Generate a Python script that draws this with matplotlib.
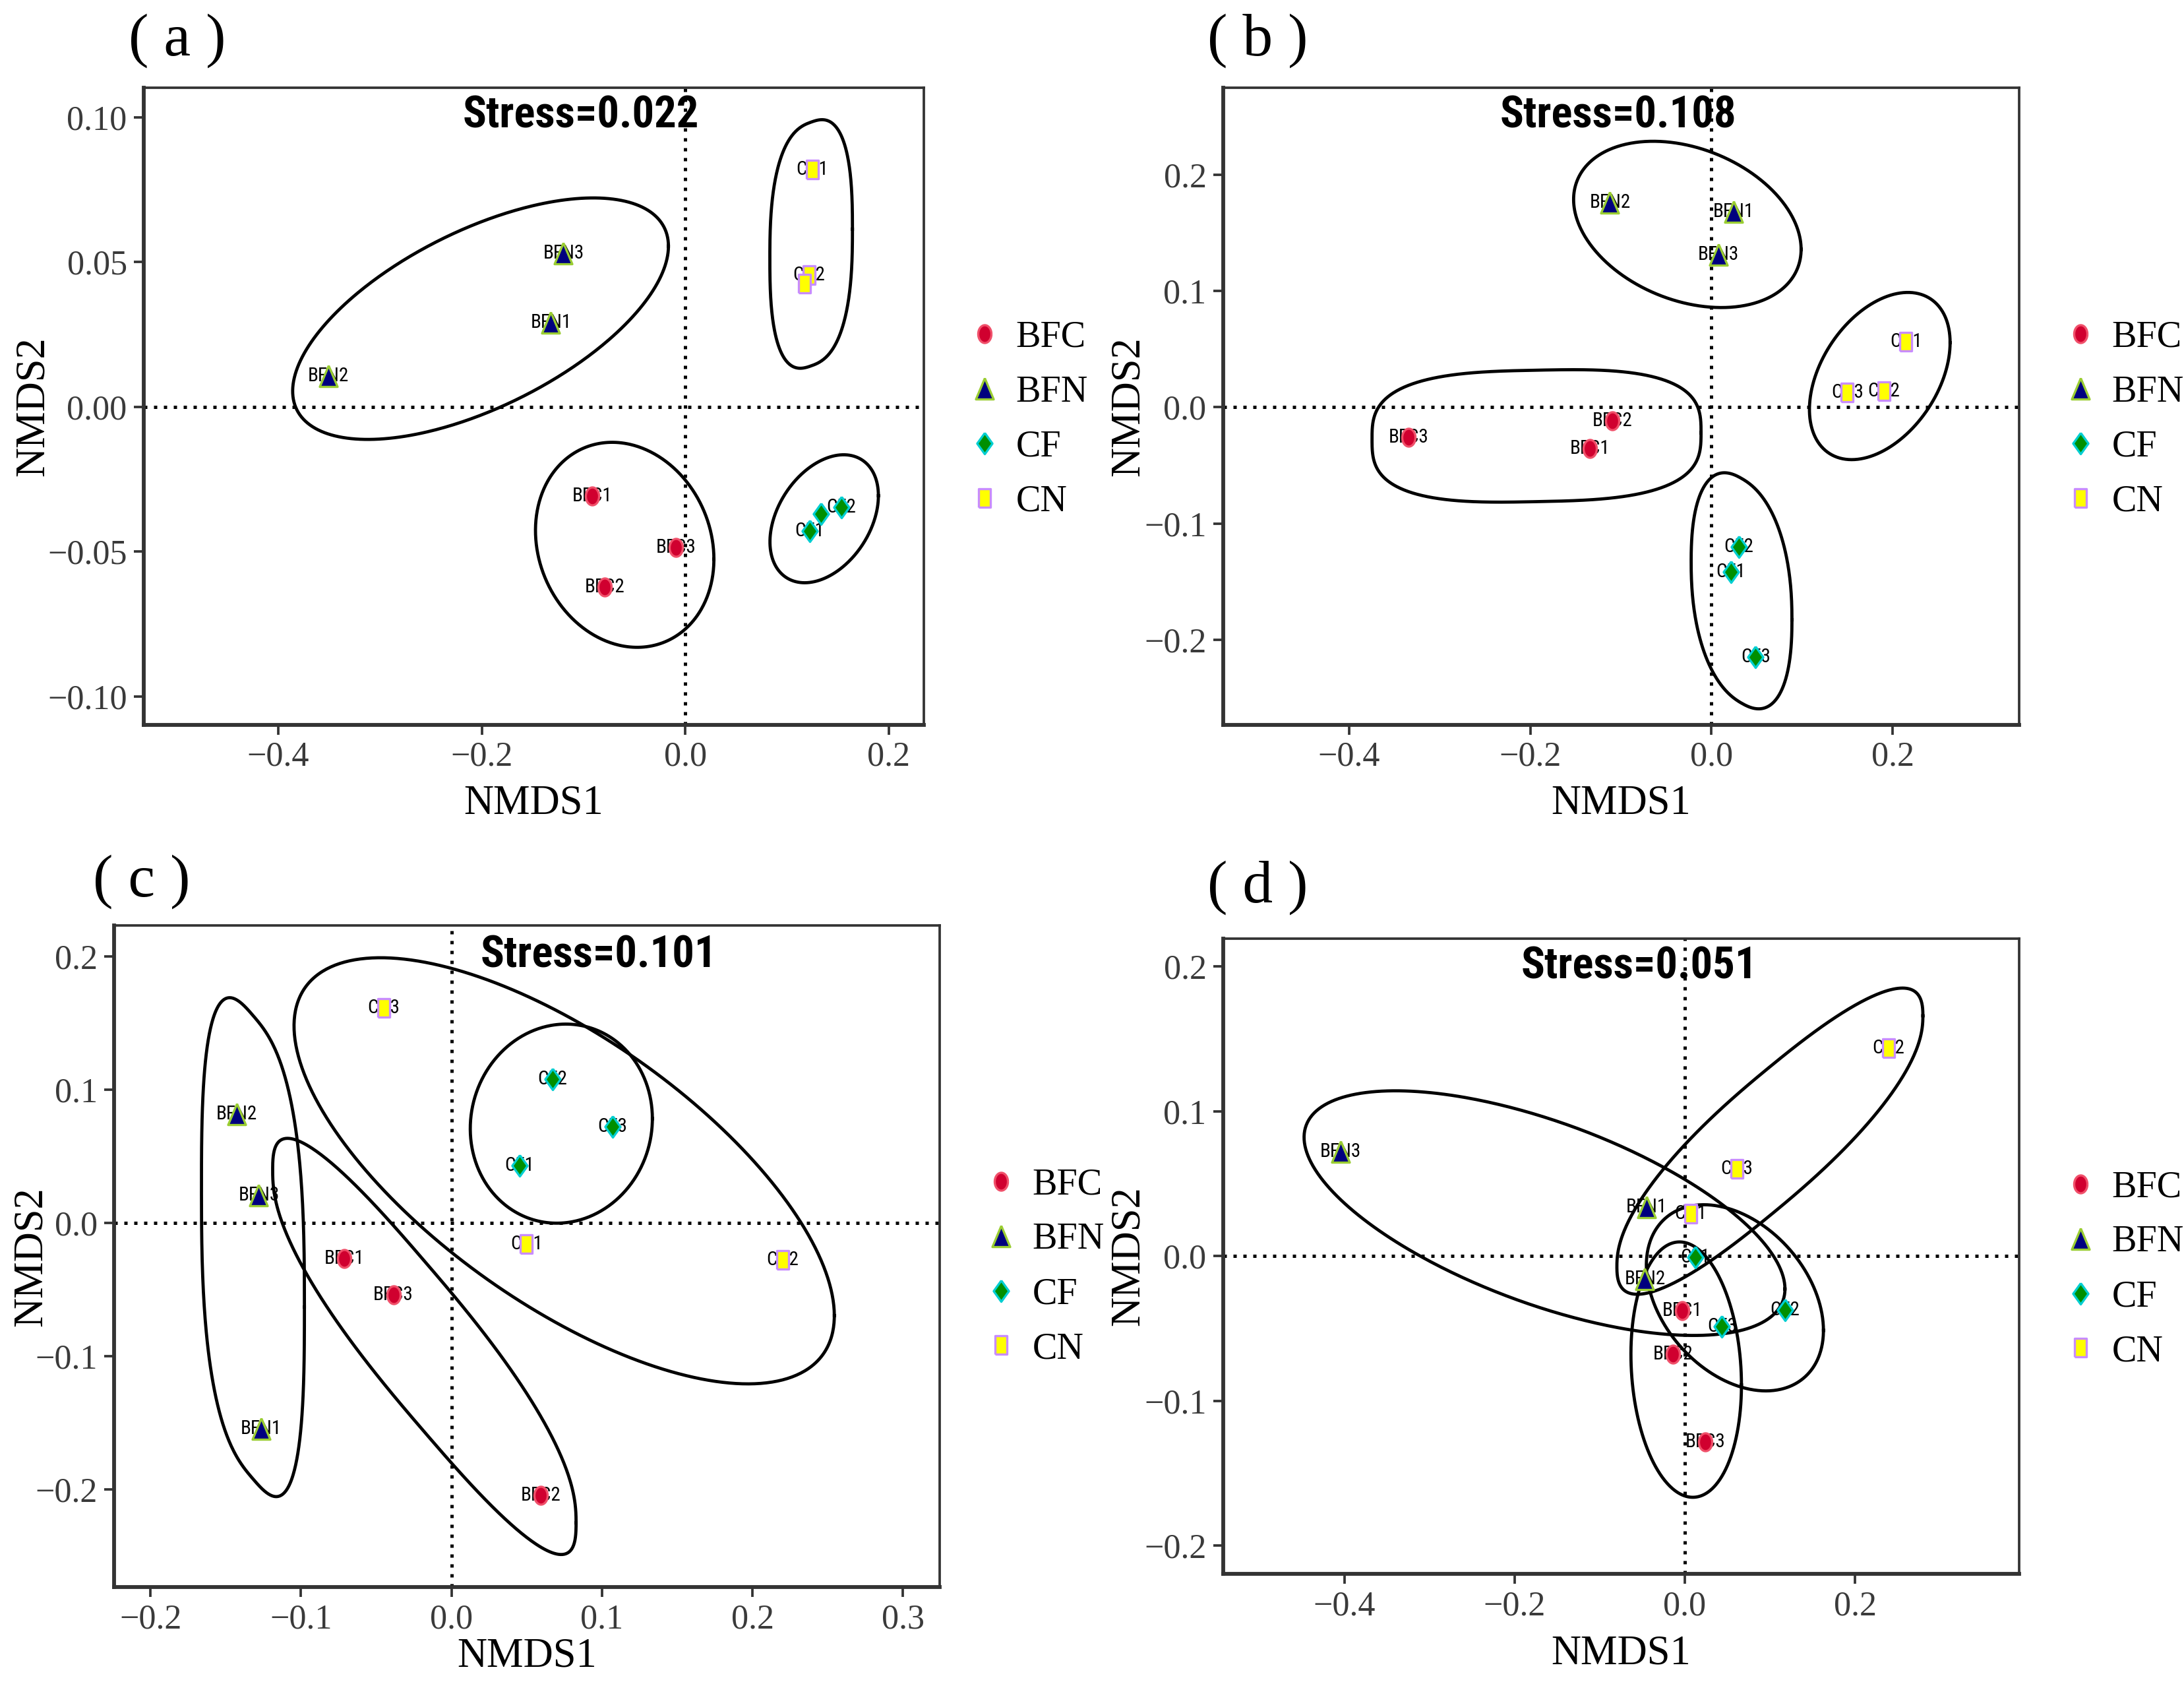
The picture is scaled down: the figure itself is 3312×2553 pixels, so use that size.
import numpy as np
import matplotlib
matplotlib.use('Agg')
import matplotlib.pyplot as plt
from matplotlib import font_manager
from matplotlib.lines import Line2D
from matplotlib.ticker import FixedLocator, FuncFormatter

plt.rcParams['font.family'] = ['Liberation Serif', 'DejaVu Serif']

GROUPS = ['BFC', 'BFN', 'CF', 'CN']

# ---- panel (a) ----
a_x = [-0.0915, -0.079, -0.0089, -0.132, -0.351, -0.1197,
       0.1225, 0.1534, 0.1335, 0.125, 0.1215, 0.1175]
a_y = [-0.0309, -0.0622, -0.0486, 0.0291, 0.0106, 0.0529,
       -0.043, -0.0347, -0.0369, 0.0819, 0.0455, 0.0425]
a_grp = ['BFC'] * 3 + ['BFN'] * 3 + ['CF'] * 3 + ['CN'] * 3
a_lab = ['BFC1', 'BFC2', 'BFC3', 'BFN1', 'BFN2', 'BFN3',
         'CF1', 'CF2', '', 'CN1', 'CN2', '']
a_stress = 'Stress=0.022'
a_xticks = [-0.4, -0.2, 0.0, 0.2]
a_yticks = [-0.10, -0.05, 0.00, 0.05, 0.10]
# group outlines (BFC, BFN, CF, CN): centre, half extents, tilt, squareness
a_ell_cx = [-0.0595, -0.2012, 0.1366, 0.1238]
a_ell_cy = [-0.0477, 0.0304, -0.0387, 0.0562]
a_ell_hx = [0.0877, 0.1847, 0.0533, 0.0406]
a_ell_hy = [0.0354, 0.0417, 0.0221, 0.0424]
a_ell_r = [-0.14, 0.6, 0.36, 0.12]
a_ell_n = [2.0, 2.0, 2.0, 2.6]

# ---- panel (b) ----
b_x = [-0.1344, -0.1096, -0.3344, 0.0247, -0.112, 0.0077,
       0.0216, 0.0301, 0.0486, 0.2147, 0.190, 0.1498]
b_y = [-0.0357, -0.0116, -0.026, 0.1684, 0.1763, 0.1313,
       -0.1415, -0.1197, -0.2148, 0.0566, 0.0139, 0.0125]
b_grp = a_grp
b_lab = ['BFC1', 'BFC2', 'BFC3', 'BFN1', 'BFN2', 'BFN3',
         'CF1', 'CF2', 'CF3', 'CN1', 'CN2', 'CN3']
b_stress = 'Stress=0.108'
b_xticks = [-0.4, -0.2, 0.0, 0.2]
b_yticks = [-0.2, -0.1, 0.0, 0.1, 0.2]
b_ell_cx = [-0.193, -0.0266, 0.0332, 0.1857]
b_ell_cy = [-0.0246, 0.1573, -0.1578, 0.0269]
b_ell_hx = [0.1815, 0.1255, 0.0556, 0.0776]
b_ell_hy = [0.0566, 0.0715, 0.0998, 0.0719]
b_ell_r = [0.05, -0.3, -0.25, 0.4]
b_ell_n = [3.0, 2.0, 2.3, 2.0]

# ---- panel (c) ----
c_x = [-0.0712, 0.0595, -0.0386, -0.1265, -0.1428, -0.128,
       0.0451, 0.067, 0.107, 0.0498, 0.22, -0.0451]
c_y = [-0.0271, -0.2049, -0.0543, -0.1547, 0.0814, 0.0206,
       0.0429, 0.1077, 0.0721, -0.0162, -0.0279, 0.1611]
c_grp = a_grp
c_lab = b_lab
c_stress = 'Stress=0.101'
c_xticks = [-0.2, -0.1, 0.0, 0.1, 0.2, 0.3]
c_yticks = [-0.2, -0.1, 0.0, 0.1, 0.2]
c_ell_cx = [-0.018, -0.1319, 0.073, 0.0749]
c_ell_cy = [-0.0929, -0.0184, 0.0743, 0.0389]
c_ell_hx = [0.1008, 0.0342, 0.0605, 0.1795]
c_ell_hy = [0.1471, 0.1796, 0.0747, 0.1599]
c_ell_r = [-0.9, -0.25, 0.05, -0.68]
c_ell_n = [2.6, 2.8, 2.0, 2.0]

# ---- panel (d) ----
d_x = [-0.0033, -0.014, 0.0238, -0.0452, -0.0469, -0.4044,
       0.0123, 0.1175, 0.0436, 0.0066, 0.2392, 0.0608]
d_y = [-0.038, -0.0679, -0.1286, 0.0336, -0.0157, 0.072,
       -0.0007, -0.0373, -0.0485, 0.0291, 0.1435, 0.060]
d_grp = a_grp
d_lab = b_lab
d_stress = 'Stress=0.051'
d_xticks = [-0.4, -0.2, 0.0, 0.2]
d_yticks = [-0.2, -0.1, 0.0, 0.1, 0.2]
d_ell_cx = [0.0016, -0.1648, 0.0588, 0.0999]
d_ell_cy = [-0.0785, 0.0296, -0.0289, 0.0793]
d_ell_hx = [0.0649, 0.2824, 0.104, 0.1797]
d_ell_hy = [0.0882, 0.0845, 0.0643, 0.1007]
d_ell_r = [-0.12, -0.62, -0.35, 0.86]
d_ell_n = [2.0, 2.0, 2.0, 2.4]

# ---- styling ----
def _narrow(verts, k):
    return [(vx * k, vy) for vx, vy in verts]

_t = np.linspace(0, 2 * np.pi, 40)
MARKERS = {
    'BFC': _narrow(list(zip(0.5 * np.cos(_t), 0.5 * np.sin(_t))), 0.74),
    'BFN': _narrow([(0, 0.5), (-0.5, -0.5), (0.5, -0.5), (0, 0.5)], 0.84),
    'CF': _narrow([(0, 0.5), (-0.5, 0), (0, -0.5), (0.5, 0), (0, 0.5)], 0.72),
    'CN': _narrow([(-0.5, -0.5), (0.5, -0.5), (0.5, 0.5), (-0.5, 0.5), (-0.5, -0.5)], 0.63),
}
SIZES = {'BFC': 6.5, 'BFN': 7.7, 'CF': 7.7, 'CN': 6.5}
FACE = {'BFC': '#D0002F', 'BFN': '#00007F', 'CF': '#008F00', 'CN': '#FFFF00'}
EDGE = {'BFC': '#F0506A', 'BFN': '#9ACD32', 'CF': '#00CED1', 'CN': '#C88CFF'}

# the reference uses a narrow sans (Arial Narrow-like); take one if installed
_names = {f.name for f in font_manager.fontManager.ttflist}
_narrow_fam = next((n for n in ['Liberation Sans Narrow', 'Roboto Condensed',
                                'Noto Sans Condensed', 'Open Sans Condensed',
                                'DejaVu Sans Condensed', 'Arial Narrow']
                    if n in _names), None)
if _narrow_fam:
    SANS_N = [_narrow_fam, 'Liberation Sans']
    STRESS_SIZE, LABEL_SIZE = 16, 7
else:
    SANS_N = ['Liberation Sans', 'DejaVu Sans']
    STRESS_SIZE, LABEL_SIZE = 14.5, 6


def fmt_tick(v, pos, nd):
    return f'{v:.{nd}f}'.replace('-', '\u2212')


def outline(cx, cy, hx, hy, r, n, num=400):
    t = np.linspace(0, 2 * np.pi, num)
    c = np.sign(np.cos(t)) * np.abs(np.cos(t)) ** (2.0 / n)
    s = np.sign(np.sin(t)) * np.abs(np.sin(t)) ** (2.0 / n)
    return cx + hx * c, cy + hy * (r * c + np.sqrt(1 - r * r) * s)


def draw_panel(ax, xs, ys, grp, lab, ell, stress, xlim, ylim, xticks, yticks,
               ynd, stress_pos, xlab_y, ylab_x, leg_anchor):
    ax.set_xlim(*xlim)
    ax.set_ylim(*ylim)
    ax.axhline(0, color='black', lw=1.2, ls=(0, (1, 2)), zorder=1)
    ax.axvline(0, color='black', lw=1.2, ls=(0, (1, 2)), zorder=1)

    for i, g in enumerate(GROUPS):
        ex, ey = outline(ell[0][i], ell[1][i], ell[2][i], ell[3][i], ell[4][i], ell[5][i])
        ax.plot(ex, ey, color='black', lw=1.15, zorder=2)

    for x, y, g, l in zip(xs, ys, grp, lab):
        if l:
            ax.text(x, y, l, fontsize=LABEL_SIZE, family=SANS_N,
                    ha='center', va='center', zorder=3)
        ax.plot([x], [y], ls='none', marker=MARKERS[g], ms=SIZES[g],
                mfc=FACE[g], mec=EDGE[g], mew=0.8, zorder=4)

    ax.text(stress_pos[0], stress_pos[1], stress, transform=ax.transAxes,
            fontsize=STRESS_SIZE, family=SANS_N, fontweight='bold',
            ha='center', va='center', zorder=5)

    ax.xaxis.set_major_locator(FixedLocator(xticks))
    ax.yaxis.set_major_locator(FixedLocator(yticks))
    ax.xaxis.set_major_formatter(FuncFormatter(lambda v, p: fmt_tick(v, p, 1)))
    ax.yaxis.set_major_formatter(FuncFormatter(lambda v, p: fmt_tick(v, p, ynd)))
    ax.tick_params(direction='out', length=3.5, width=0.9, color='#333333',
                   labelsize=12.5, labelcolor='#3A3A3A', pad=2.5)
    for side in ('left', 'bottom'):
        ax.spines[side].set_linewidth(1.4)
        ax.spines[side].set_color('#333333')
    for side in ('top', 'right'):
        ax.spines[side].set_linewidth(0.9)
        ax.spines[side].set_color('#333333')

    ax.set_xlabel('NMDS1', fontsize=15)
    ax.set_ylabel('NMDS2', fontsize=15)
    ax.xaxis.set_label_coords(0.5, xlab_y)
    ax.xaxis.label.set_va('center')
    ax.yaxis.set_label_coords(ylab_x, 0.5)
    ax.yaxis.label.set_va('center')

    handles = [Line2D([], [], ls='none', marker=MARKERS[g], ms=SIZES[g],
                      mfc=FACE[g], mec=EDGE[g], mew=0.8, label=g) for g in GROUPS]
    ax.legend(handles=handles, loc='center left', bbox_to_anchor=leg_anchor,
              frameon=False, fontsize=13.5, handlelength=1.0, handletextpad=0.35,
              labelspacing=0.55, borderpad=0, borderaxespad=0)


fig = plt.figure(figsize=(11.043, 8.51), dpi=300)

ax_a = fig.add_axes([0.0657, 0.5697, 0.4229 - 0.0657, 0.9478 - 0.5697])
ax_b = fig.add_axes([0.5598, 0.5697, 0.9244 - 0.5598, 0.9478 - 0.5697])
ax_c = fig.add_axes([0.0522, 0.0574, 0.430 - 0.0522, 0.4505 - 0.0574])
ax_d = fig.add_axes([0.5598, 0.0654, 0.9244 - 0.5598, 0.4426 - 0.0654])

draw_panel(ax_a, a_x, a_y, a_grp, a_lab,
           (a_ell_cx, a_ell_cy, a_ell_hx, a_ell_hy, a_ell_r, a_ell_n),
           a_stress, (-0.5325, 0.2346), (-0.1098, 0.1101), a_xticks, a_yticks, 2,
           (0.5605, 0.956), -0.1246, -0.141, (1.054, 0.479))
draw_panel(ax_b, b_x, b_y, b_grp, b_lab,
           (b_ell_cx, b_ell_cy, b_ell_hx, b_ell_hy, b_ell_r, b_ell_n),
           b_stress, (-0.539, 0.3398), (-0.2729, 0.2747), b_xticks, b_yticks, 1,
           (0.4965, 0.956), -0.1246, -0.1186, (1.053, 0.479))
draw_panel(ax_c, c_x, c_y, c_grp, c_lab,
           (c_ell_cx, c_ell_cy, c_ell_hx, c_ell_hy, c_ell_r, c_ell_n),
           c_stress, (-0.2242, 0.3242), (-0.2737, 0.2231), c_xticks, c_yticks, 1,
           (0.587, 0.955), -0.1043, -0.100, (1.052, 0.484))
draw_panel(ax_d, d_x, d_y, d_grp, d_lab,
           (d_ell_cx, d_ell_cy, d_ell_hx, d_ell_hy, d_ell_r, d_ell_n),
           d_stress, (-0.5425, 0.393), (-0.2196, 0.2192), d_xticks, d_yticks, 1,
           (0.523, 0.956), -0.1257, -0.1186, (1.053, 0.479))

fig.text(0.081, 0.976, '( a )', fontsize=22, ha='center', va='center')
fig.text(0.5758, 0.976, '( b )', fontsize=22, ha='center', va='center')
fig.text(0.0647, 0.4763, '( c )', fontsize=22, ha='center', va='center')
fig.text(0.5758, 0.473, '( d )', fontsize=22, ha='center', va='center')

fig.savefig('out.png', dpi=300)
plt.close(fig)
